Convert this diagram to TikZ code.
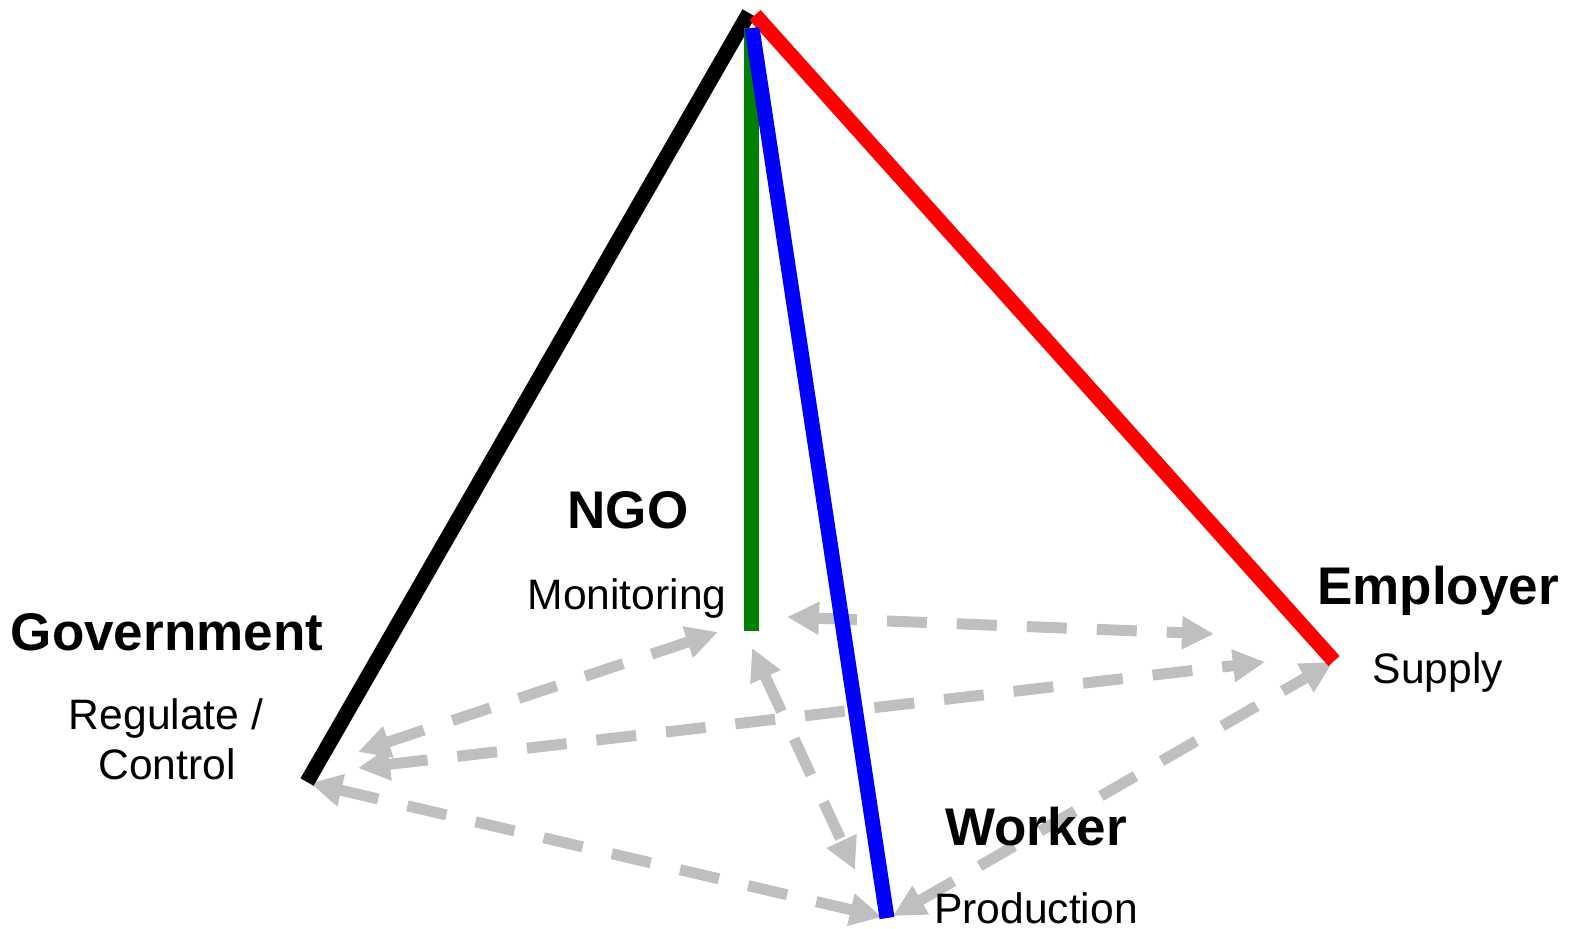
\documentclass[tikz,border=0pt]{standalone}
\usepackage{fontspec}
\setmainfont{Liberation Sans}
\usetikzlibrary{arrows.meta}
\definecolor{relgray}{RGB}{191,191,191}
\definecolor{ngogreen}{RGB}{0,128,0}
\begin{document}
\begin{tikzpicture}[x=1pt,y=-1pt,
  rel/.style={draw=relgray, line width=11pt, dash pattern=on 40pt off 30pt,
    {Triangle[length=32pt,width=31pt]}-{Triangle[length=32pt,width=31pt]}},
  edge/.style={line width=15pt},
  title/.style={font=\fontsize{53}{60}\selectfont\bfseries, anchor=base, inner sep=0pt},
  sub/.style={font=\fontsize{42.6}{50}\selectfont, anchor=base, inner sep=0pt}]
\useasboundingbox (0,0) rectangle (1569,929);

% apex and corners
\coordinate (apexK) at (749,13);
\coordinate (apexR) at (755,15);
\coordinate (apexB) at (752,28);
\coordinate (apexG) at (751,28);
\coordinate (gov) at (307,782);
\coordinate (emp) at (1334,661);
\coordinate (ngo) at (751,631);
\coordinate (wrk) at (887,918);

% arrow end points
\coordinate (ngoA) at (718,632);
\coordinate (govA) at (358,752);
\coordinate (govB) at (358,768);
\coordinate (empB) at (1265,662);
\coordinate (govC) at (310,783);
\coordinate (wrkC) at (882,917);
\coordinate (ngoD) at (787,617);
\coordinate (empD) at (1214,634);
\coordinate (ngoE) at (752,648);
\coordinate (wrkE) at (855,870);
\coordinate (wrkF) at (893,916);
\coordinate (empF) at (1333,662);

% relations
\draw[rel] (ngoA) -- (govA);
\draw[rel] (govB) -- (empB);
\draw[rel] (govC) -- (wrkC);
\draw[rel] (ngoD) -- (empD);
\draw[rel] (ngoE) -- (wrkE);
\draw[rel] (wrkF) -- (empF);

% pyramid edges
\draw[edge, black] (apexK) -- (gov);
\draw[edge, red] (apexR) -- (emp);
\draw[edge, ngogreen] (apexG) -- (ngo);
\draw[edge, blue] (apexB) -- (wrk);

% labels
\node[title] (ngoT) at (628,528) {NGO};
\node[sub] (ngoS) at (627,609) {Monitoring};
\node[title] (govT) at (167,650) {Government};
\node[sub] (govS1) at (166,729) {Regulate /};
\node[sub] (govS2) at (167,779) {Control};
\node[title] (empT) at (1438,604) {Employer};
\node[sub] (empS) at (1438,683) {Supply};
\node[title] (wrkT) at (1036,845) {Worker};
\node[sub] (wrkS) at (1036,923) {Production};
\end{tikzpicture}
\end{document}
